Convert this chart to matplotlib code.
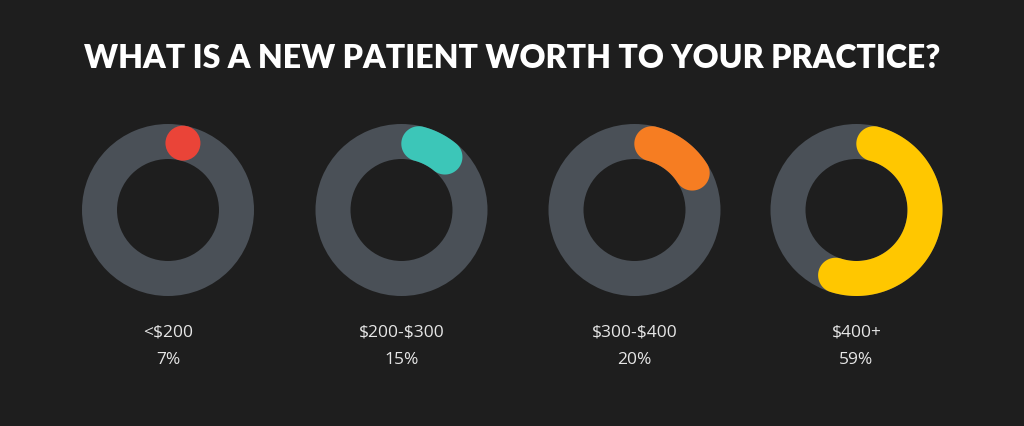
import numpy as np
import matplotlib.pyplot as plt
from matplotlib.patches import Circle, Polygon, Wedge

# data
categories = ['<$200', '$200-$300', '$300-$400', '$400+']
shares = [7, 15, 20, 59]
colors = ['#ea4438', '#3cc6b8', '#f67d22', '#ffc700']
title = 'WHAT IS A NEW PATIENT WORTH TO YOUR PRACTICE?'

bg = '#1e1e1e'
ring_col = '#4a5057'

fig = plt.figure(figsize=(10.24, 4.27), dpi=100, facecolor=bg)
ax = fig.add_axes([0, 0, 1, 1])
ax.set_facecolor(bg)
ax.set_xlim(0, 1024)
ax.set_ylim(427, 0)
ax.set_aspect('equal')
ax.axis('off')

centers_x = [168, 401.5, 634.5, 856.5]
cy = 211
r_out, r_in = 86, 51
r_mid = (r_out + r_in) / 2
half = (r_out - r_in) / 2


def pt(ang, r, cx):
    # angle in degrees, clockwise from top (y axis points down)
    a = np.radians(ang)
    return cx + r * np.sin(a), cy - r * np.cos(a)


def cap_pts(px, py, ang, sign):
    # semicircle from the outer side round to the inner side
    th = np.radians(ang)
    ux, uy = np.sin(th), -np.cos(th)   # radial
    tx, ty = np.cos(th), np.sin(th)    # tangential (clockwise)
    phi = np.linspace(0, np.pi, 60)
    return [(px + half * (ux * np.cos(p) + sign * tx * np.sin(p)),
             py + half * (uy * np.cos(p) + sign * ty * np.sin(p))) for p in phi]


def rounded_arc(cx, pct, color):
    span = 360 * pct / 100
    cap = np.degrees(half / r_mid)
    a1, a2 = cap, span - cap
    if a2 <= a1:
        ax.add_patch(Circle(pt(span / 2, r_mid, cx), half, color=color, lw=0, zorder=3))
        return
    t = np.linspace(a1, a2, 200)
    outer = [pt(a, r_out, cx) for a in t]
    inner = [pt(a, r_in, cx) for a in t[::-1]]
    end_cap = cap_pts(*pt(a2, r_mid, cx), a2, 1)
    start_cap = cap_pts(*pt(a1, r_mid, cx), a1, -1)[::-1]
    pts = outer + end_cap + inner + start_cap
    ax.add_patch(Polygon(pts, closed=True, color=color, lw=0, zorder=3))


for cx, cat, val, col in zip(centers_x, categories, shares, colors):
    ax.add_patch(Wedge((cx, cy), r_out, 0, 360, width=r_out - r_in,
                       color=ring_col, lw=0, zorder=2))
    rounded_arc(cx, val, col)
    ax.text(cx, 333, cat, ha='center', va='center', color='#e6e6e6',
            fontsize=12.5, family='Open Sans', parse_math=False)
    ax.text(cx, 360, f'{val}%', ha='center', va='center', color='#e6e6e6',
            fontsize=12.5, family='Open Sans', parse_math=False)

ax.text(512, 58, title, ha='center', va='center', color='white',
        fontsize=23, fontweight='heavy', family='Lato')

fig.savefig('out.png', dpi=100, facecolor=bg)
